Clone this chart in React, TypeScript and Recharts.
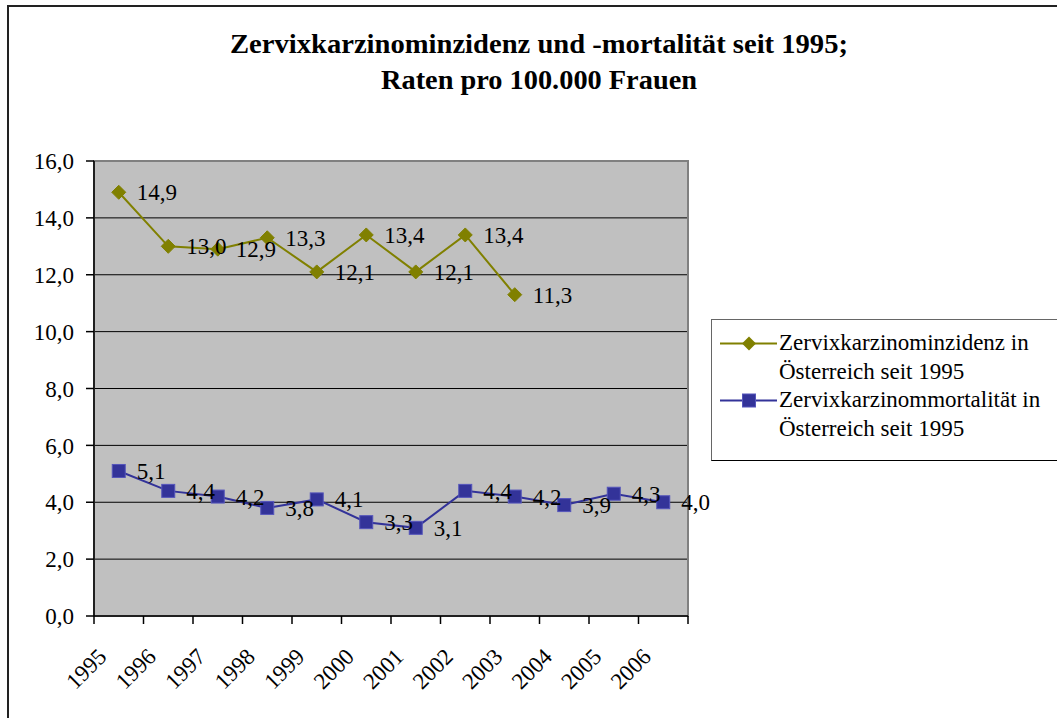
import React from 'react';
import {
  LineChart,
  Line,
  XAxis,
  YAxis,
  CartesianGrid,
  LabelList,
  Legend,
  ReferenceArea,
} from 'recharts';

const years = ['1995', '1996', '1997', '1998', '1999', '2000', '2001', '2002', '2003', '2004', '2005', '2006'];
const incidence: (number | null)[] = [14.9, 13.0, 12.9, 13.3, 12.1, 13.4, 12.1, 13.4, 11.3, null, null, null];
const mortality: number[] = [5.1, 4.4, 4.2, 3.8, 4.1, 3.3, 3.1, 4.4, 4.2, 3.9, 4.3, 4.0];
const yTicks = [0, 2, 4, 6, 8, 10, 12, 14, 16];
const xBoundaries = [0, 1, 2, 3, 4, 5, 6, 7, 8, 9, 10, 11, 12];
const seriesNames = [
  ['Zervixkarzinominzidenz in', 'Österreich seit 1995'],
  ['Zervixkarzinommortalität in', 'Österreich seit 1995'],
];
const titleLines = ['Zervixkarzinominzidenz und -mortalität seit 1995;', 'Raten pro 100.000 Frauen'];

const data = years.map((year, i) => ({
  idx: i + 0.5,
  year,
  inc: incidence[i],
  mort: mortality[i],
}));

const FONT = "'Liberation Serif', 'Times New Roman', serif";
const OLIVE = '#808000';
const NAVY = '#333399';

const fmt = (v: number) => v.toFixed(1).replace('.', ',');

const DiamondDot = (props: any) => {
  const { cx, cy, value } = props;
  if (value == null || cx == null || cy == null) return <g />;
  const r = 7;
  return (
    <polygon
      points={`${cx},${cy - r} ${cx + r},${cy} ${cx},${cy + r} ${cx - r},${cy}`}
      fill={OLIVE}
      stroke={OLIVE}
      strokeWidth={1}
    />
  );
};

const SquareDot = (props: any) => {
  const { cx, cy, value } = props;
  if (value == null || cx == null || cy == null) return <g />;
  const s = 13;
  return <rect x={cx - s / 2} y={cy - s / 2} width={s} height={s} fill={NAVY} stroke="#5555bb" strokeWidth={1} />;
};

const renderLabel = (props: any) => {
  const { value } = props;
  if (value == null) return <g />;
  const vb = props.viewBox || {};
  const x = props.x ?? vb.x;
  const y = props.y ?? vb.y;
  if (x == null || y == null) return <g />;
  return (
    <text x={x + 18} y={y} dy="0.35em" fontFamily={FONT} fontSize={23} fill="#000">
      {fmt(Number(value))}
    </text>
  );
};

const XTick = (props: any) => {
  const { x, y, payload } = props;
  const i = payload.value;
  if (i >= years.length) return <g />;
  const ax = x + 14;
  const ay = y + 32;
  return (
    <text
      x={ax}
      y={ay}
      transform={`rotate(-45 ${ax} ${ay})`}
      textAnchor="end"
      fontFamily={FONT}
      fontSize={23}
      fill="#000"
    >
      {years[i]}
    </text>
  );
};

const LegendContent = () => {
  const rows = [
    { color: OLIVE, shape: 'diamond', lines: seriesNames[0] },
    { color: NAVY, shape: 'square', lines: seriesNames[1] },
  ];
  return (
    <div
      style={{
        position: 'relative',
        width: 360,
        height: 142,
        boxSizing: 'border-box',
        border: '1px solid #666',
        borderBottom: '1px solid #000',
        background: '#fff',
        fontFamily: FONT,
        fontSize: 23,
        color: '#000',
      }}
    >
      {rows.map((r, k) => (
        <div key={k} style={{ position: 'absolute', left: 8, top: 9 + k * 57, display: 'flex' }}>
          <svg width={59} height={29} style={{ display: 'block' }}>
            <line x1={0} y1={14.5} x2={57} y2={14.5} stroke={r.color} strokeWidth={2} />
            {r.shape === 'diamond' ? (
              <polygon points="29,7.5 36,14.5 29,21.5 22,14.5" fill={r.color} />
            ) : (
              <rect x={22.5} y={8} width={13} height={13} fill={r.color} stroke="#5555bb" />
            )}
          </svg>
          <div style={{ lineHeight: '28.5px', whiteSpace: 'nowrap' }}>
            {r.lines[0]}
            <br />
            {r.lines[1]}
          </div>
        </div>
      ))}
    </div>
  );
};

export default function App() {
  return (
    <div style={{ position: 'absolute', left: 0, top: 0, width: 1057, height: 718, overflow: 'hidden', background: '#fff' }}>
      <div
        style={{
          position: 'absolute',
          left: 7,
          top: 5,
          width: 1050,
          height: 713,
          boxSizing: 'border-box',
          borderTop: '2px solid #222',
          borderLeft: '2px solid #222',
        }}
      />
      <svg width={1057} height={110} style={{ position: 'absolute', left: 0, top: 0 }}>
        <text x={539} y={53} textAnchor="middle" fontFamily={FONT} fontWeight="bold" fontSize={28} textLength={618} lengthAdjust="spacingAndGlyphs">
          {titleLines[0]}
        </text>
        <text x={539} y={89} textAnchor="middle" fontFamily={FONT} fontWeight="bold" fontSize={28} textLength={316} lengthAdjust="spacingAndGlyphs">
          {titleLines[1]}
        </text>
      </svg>
      <div style={{ position: 'absolute', left: 0, top: 0 }}>
        <LineChart width={1057} height={718} data={data} margin={{ top: 161, right: 369, bottom: 42, left: 34 }}>
          <CartesianGrid vertical={false} stroke="#000" fill="#C0C0C0" fillOpacity={1} />
          <ReferenceArea x1={0} x2={12} y1={0} y2={16} fill="none" stroke="#808080" strokeWidth={2} ifOverflow="visible" />
          <XAxis
            dataKey="idx"
            type="number"
            domain={[0, 12]}
            ticks={xBoundaries}
            interval={0}
            height={60}
            tickSize={8}
            tickMargin={2}
            axisLine={{ stroke: '#000', strokeWidth: 1.5 }}
            tickLine={{ stroke: '#000', strokeWidth: 1.5 }}
            tick={<XTick />}
          />
          <YAxis
            type="number"
            domain={[0, 16]}
            ticks={yTicks}
            interval={0}
            width={60}
            tickSize={8}
            tickMargin={12}
            axisLine={{ stroke: '#000', strokeWidth: 1.5 }}
            tickLine={{ stroke: '#000', strokeWidth: 1.5 }}
            tick={{ fontFamily: FONT, fontSize: 23, fill: '#000' }}
            tickFormatter={(v: number) => fmt(v)}
          />
          <Legend
            content={<LegendContent />}
            layout="horizontal"
            align="center"
            verticalAlign="middle"
            wrapperStyle={{ position: 'absolute', left: 711, top: 319, width: 360, height: 142 }}
          />
          <Line
            type="linear"
            dataKey="inc"
            name="Zervixkarzinominzidenz in Österreich seit 1995"
            stroke={OLIVE}
            strokeWidth={2}
            dot={<DiamondDot />}
            activeDot={false}
            isAnimationActive={false}
            connectNulls={false}
          >
            <LabelList dataKey="inc" content={renderLabel} />
          </Line>
          <Line
            type="linear"
            dataKey="mort"
            name="Zervixkarzinommortalität in Österreich seit 1995"
            stroke={NAVY}
            strokeWidth={2}
            dot={<SquareDot />}
            activeDot={false}
            isAnimationActive={false}
          >
            <LabelList dataKey="mort" content={renderLabel} />
          </Line>
        </LineChart>
      </div>
    </div>
  );
}
